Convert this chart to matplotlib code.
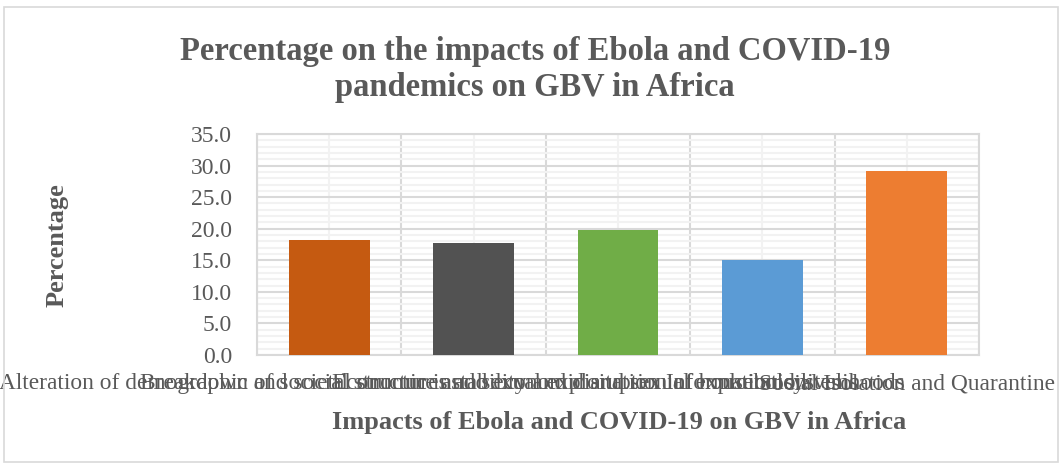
import matplotlib
matplotlib.use("Agg")
import matplotlib.pyplot as plt
from matplotlib.patches import Rectangle
import numpy as np

# Data
categories = [
    "Alteration of demographic and social structure and sexual exploitation",
    "Breakdown of societal structures and economic and sexual exploitation",
    "Economic instability and disruption of household livelihoods",
    "Information systems",
    "Social Isolation and Quarantine",
]
values = [18.2, 17.7, 19.8, 15.1, 29.2]
colors = ["#C55A11", "#525252", "#70AD47", "#5B9BD5", "#ED7D31"]
y_ticks = np.arange(0, 35.1, 5)

TEXT = "#595959"
GRID_MAJOR = "#D9D9D9"
GRID_MINOR = "#F2F2F2"

plt.rcParams["font.family"] = ["Liberation Serif", "DejaVu Serif"]

fig = plt.figure(figsize=(10.61, 4.67), dpi=100)
ax = fig.add_axes([0.2422, 0.2398, 0.9227 - 0.2422, 0.7131 - 0.2398])

x = np.arange(len(categories))
ax.bar(x, values, width=0.56, color=colors, zorder=3)

ax.set_xlim(-0.5, len(categories) - 0.5)
ax.set_ylim(0, 35)

# category boundaries as major ticks, centres as minor (labelled)
ax.set_xticks(np.arange(-0.5, len(categories), 1.0))
ax.set_xticklabels([])
ax.set_xticks(x, minor=True)
ax.set_xticklabels(categories, minor=True, fontsize=16.8, color=TEXT)

ax.set_yticks(y_ticks)
ax.set_yticklabels([f"{v:.1f}" for v in y_ticks], fontsize=17, color=TEXT)
ax.set_yticks(np.arange(0, 35.1, 1), minor=True)

ax.tick_params(axis="both", which="both", length=0)
ax.tick_params(axis="x", which="minor", pad=13)
ax.tick_params(axis="y", which="major", pad=18)

ax.grid(which="minor", color=GRID_MINOR, linewidth=1.5, zorder=0)
ax.grid(which="major", color=GRID_MAJOR, linewidth=1.5, zorder=1)
ax.set_axisbelow(True)
for s in ax.spines.values():
    s.set_color(GRID_MAJOR)
    s.set_linewidth(1.5)

fig.text(0.504, 0.851, "Percentage on the impacts of Ebola and COVID-19\npandemics on GBV in Africa",
         ha="center", va="center", fontsize=23.5, fontweight="bold", color=TEXT,
         linespacing=1.2)
fig.text(0.054, 0.475, "Percentage", rotation=90, ha="center", va="center",
         fontsize=19, fontweight="bold", color=TEXT)
fig.text(0.584, 0.096, "Impacts of Ebola and COVID-19 on GBV in Africa",
         ha="center", va="center", fontsize=19, fontweight="bold", color=TEXT)

# chart frame
fig.patches.append(Rectangle((4 / 1061, 1 - 462 / 467), 1054 / 1061, 455 / 467,
                             transform=fig.transFigure, fill=False,
                             edgecolor=GRID_MAJOR, linewidth=1.2))

fig.savefig("out.png", dpi=100)
